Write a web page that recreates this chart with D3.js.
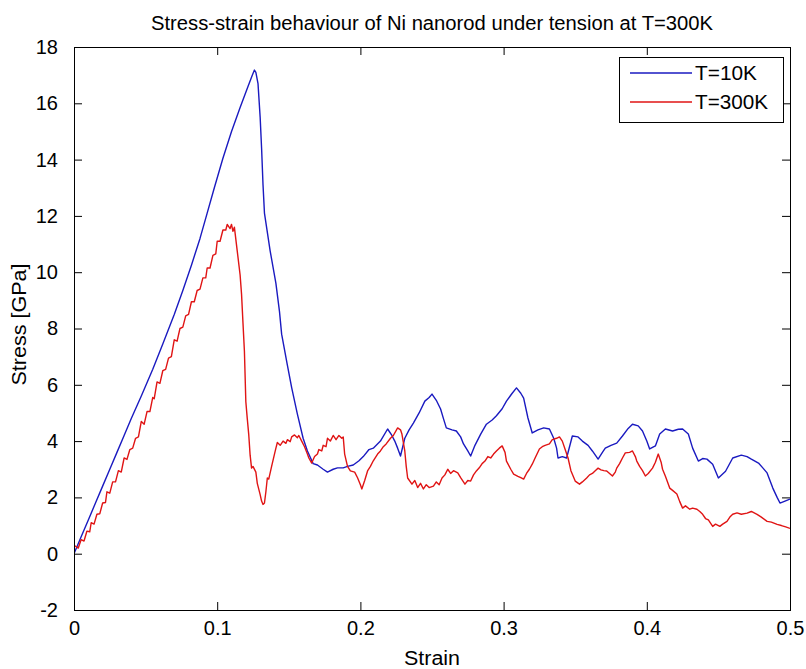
<!DOCTYPE html>
<html>
<head>
<meta charset="utf-8">
<script src="https://cdn.jsdelivr.net/npm/d3@7"></script>
<style>
  html, body { margin: 0; padding: 0; background: #fff; }
  svg { display: block; }
  text { font-family: "Liberation Sans", Arial, sans-serif; fill: #000; }
</style>
</head>
<body>
<svg id="chart" width="806" height="669"></svg>
<script>
// Stress-strain curves of a Ni nanorod under tension (strain, stress in GPa)
const strain10K = [0,0.005,0.010,0.015,0.020,0.025,0.030,0.035,0.040,0.047,0.055,0.062,0.070,0.076,0.082,0.088,0.093,0.098,0.104,0.110,0.116,0.1215,0.1245,0.126,0.127,0.1285,0.130,0.131,0.132,0.133,0.137,0.141,0.1435,0.145,0.149,0.152,0.156,0.160,0.163,0.167,0.170,0.174,0.177,0.181,0.184,0.188,0.191,0.195,0.199,0.202,0.206,0.209,0.214,0.219,0.222,0.224,0.226,0.228,0.231,0.234,0.237,0.241,0.245,0.248,0.250,0.253,0.256,0.258,0.260,0.264,0.267,0.270,0.272,0.275,0.277,0.280,0.284,0.288,0.292,0.295,0.299,0.302,0.306,0.309,0.312,0.314,0.317,0.320,0.324,0.328,0.332,0.335,0.337,0.338,0.341,0.344,0.348,0.352,0.355,0.359,0.362,0.366,0.369,0.371,0.375,0.379,0.383,0.387,0.390,0.394,0.397,0.400,0.402,0.406,0.409,0.413,0.418,0.422,0.425,0.429,0.432,0.436,0.439,0.442,0.446,0.450,0.455,0.460,0.466,0.470,0.473,0.478,0.481,0.484,0.488,0.491,0.493,0.4965,0.500];
const stress10K = [0,0.60,1.20,1.80,2.40,3.00,3.60,4.20,4.80,5.60,6.55,7.45,8.50,9.35,10.25,11.20,12.10,13.00,14.05,15.00,15.85,16.60,17.00,17.18,17.10,16.7,15.5,14.4,13.1,12.1,10.75,9.6,8.6,7.8,6.7,5.9,4.96,4.1,3.65,3.2,3.15,3.0,2.9,3.0,3.05,3.05,3.1,3.15,3.3,3.45,3.7,3.75,4.0,4.43,4.2,4.0,3.75,3.47,4.1,4.4,4.64,5.0,5.42,5.55,5.67,5.45,5.14,4.8,4.47,4.40,4.36,4.15,3.9,3.65,3.47,3.85,4.25,4.6,4.75,4.9,5.15,5.42,5.7,5.89,5.7,5.53,4.82,4.29,4.4,4.47,4.43,4.1,3.75,3.4,3.45,3.4,4.18,4.15,4.0,3.85,3.65,3.36,3.6,3.75,3.85,3.93,4.18,4.45,4.6,4.54,4.36,4.0,3.72,3.83,4.25,4.43,4.36,4.42,4.43,4.25,3.75,3.29,3.38,3.36,3.18,2.69,2.93,3.4,3.5,3.45,3.36,3.22,3.05,2.87,2.33,2.0,1.8,1.87,1.94];

const strain300K = [0,0.003,0.005,0.007,0.009,0.011,0.012,0.014,0.016,0.018,0.020,0.022,0.023,0.025,0.027,0.029,0.031,0.033,0.035,0.037,0.039,0.041,0.043,0.045,0.047,0.049,0.051,0.053,0.055,0.056,0.058,0.060,0.062,0.064,0.066,0.068,0.070,0.072,0.074,0.076,0.078,0.080,0.082,0.084,0.086,0.088,0.090,0.092,0.093,0.095,0.097,0.099,0.100,0.102,0.104,0.106,0.107,0.109,0.110,0.111,0.112,0.114,0.116,0.117,0.118,0.119,0.120,0.121,0.122,0.123,0.124,0.125,0.127,0.128,0.130,0.131,0.132,0.133,0.134,0.135,0.136,0.138,0.140,0.141,0.142,0.144,0.146,0.148,0.149,0.151,0.152,0.154,0.156,0.157,0.159,0.161,0.163,0.164,0.166,0.168,0.170,0.171,0.173,0.174,0.176,0.177,0.179,0.181,0.183,0.185,0.187,0.188,0.189,0.191,0.193,0.196,0.198,0.200,0.201,0.203,0.205,0.207,0.209,0.212,0.214,0.216,0.218,0.221,0.223,0.226,0.228,0.229,0.231,0.232,0.233,0.236,0.238,0.240,0.242,0.244,0.246,0.248,0.251,0.253,0.255,0.257,0.259,0.261,0.263,0.265,0.268,0.270,0.273,0.275,0.277,0.279,0.281,0.283,0.285,0.287,0.289,0.291,0.293,0.295,0.297,0.299,0.301,0.302,0.305,0.307,0.310,0.312,0.314,0.316,0.318,0.320,0.322,0.325,0.327,0.329,0.332,0.334,0.337,0.339,0.341,0.343,0.345,0.347,0.350,0.353,0.355,0.358,0.360,0.362,0.364,0.366,0.368,0.370,0.372,0.374,0.376,0.378,0.379,0.381,0.383,0.385,0.388,0.390,0.392,0.393,0.395,0.397,0.399,0.401,0.404,0.406,0.408,0.410,0.411,0.413,0.416,0.418,0.421,0.423,0.425,0.427,0.430,0.432,0.435,0.437,0.439,0.441,0.443,0.446,0.448,0.451,0.453,0.456,0.458,0.460,0.463,0.466,0.470,0.473,0.477,0.480,0.484,0.487,0.491,0.494,0.497,0.500];
const stress300K = [0.30,0.20,0.50,0.45,0.80,0.78,1.10,1.05,1.40,1.42,1.80,1.82,2.20,2.15,2.55,2.55,2.95,2.90,3.40,3.35,3.70,3.75,4.10,4.15,4.70,4.60,5.05,5.05,5.55,5.50,6.10,6.05,6.50,6.55,6.95,7.00,7.60,7.55,8.00,8.05,8.45,8.50,8.95,8.95,9.35,9.40,9.80,9.80,10.15,10.15,10.60,10.65,11.10,11.10,11.50,11.50,11.70,11.55,11.70,11.45,11.60,10.75,9.90,9.22,8.20,7.2,5.4,4.80,4.25,3.50,3.04,3.10,2.90,2.50,2.10,1.87,1.75,1.80,2.20,2.69,2.65,3.10,3.54,3.75,3.95,3.85,4.00,3.92,4.05,3.98,4.15,4.22,4.12,4.20,4.00,3.80,3.54,3.40,3.22,3.45,3.54,3.70,3.65,3.85,3.80,4.10,4.00,4.20,4.05,4.20,4.10,4.15,3.54,3.10,2.94,2.90,2.70,2.45,2.30,2.60,2.94,3.10,3.30,3.54,3.65,3.80,3.90,4.10,4.20,4.47,4.40,4.25,3.65,3.10,2.69,2.47,2.60,2.35,2.50,2.30,2.45,2.35,2.40,2.55,2.45,2.69,2.80,3.00,2.85,2.95,2.87,2.70,2.47,2.60,2.58,2.80,2.94,3.05,3.20,3.29,3.45,3.40,3.54,3.65,3.75,3.83,3.60,3.29,3.00,2.83,2.75,2.70,2.65,2.85,3.00,3.18,3.40,3.72,3.80,3.85,3.90,4.05,4.10,4.15,4.00,3.70,3.40,2.95,2.58,2.47,2.55,2.69,2.80,2.85,2.95,3.04,2.98,2.95,2.94,2.85,2.76,2.90,3.04,3.20,3.40,3.58,3.60,3.65,3.45,3.29,3.10,2.95,2.76,2.85,3.04,3.25,3.54,3.25,3.00,2.75,2.33,2.25,2.12,1.85,1.62,1.70,1.58,1.62,1.58,1.50,1.40,1.25,1.20,0.97,1.05,0.97,1.05,1.15,1.30,1.40,1.45,1.40,1.44,1.50,1.40,1.30,1.15,1.12,1.04,1.00,0.95,0.90];

const xTicks = [0, 0.1, 0.2, 0.3, 0.4, 0.5];
const yTicks = [-2, 0, 2, 4, 6, 8, 10, 12, 14, 16, 18];
const seriesNames = ["T=10K", "T=300K"];
const seriesColors = ["#1a1ac0", "#e01414"];

const svg = d3.select("#chart");
const plot = { left: 74, right: 790, top: 47, bottom: 610 };

const x = d3.scaleLinear().domain([0, 0.5]).range([plot.left, plot.right]);
const y = d3.scaleLinear().domain([-2, 18]).range([plot.bottom, plot.top]);

svg.append("rect").attr("width", 806).attr("height", 669).attr("fill", "#fff");

const tickLen = 8;
const tickFont = 20;
const fmt = d => (d === 0 ? "0" : String(d));

// bottom axis with inward ticks
const bottomAxis = d3.axisBottom(x).tickValues(xTicks).tickSizeInner(-tickLen).tickSizeOuter(0).tickPadding(11).tickFormat(fmt);
const gB = svg.append("g").attr("transform", `translate(0,${plot.bottom})`).call(bottomAxis);
// top axis, ticks only
const topAxis = d3.axisTop(x).tickValues(xTicks).tickSizeInner(-tickLen).tickSizeOuter(0).tickFormat("");
const gT = svg.append("g").attr("transform", `translate(0,${plot.top})`).call(topAxis);
// left axis with labels
const leftAxis = d3.axisLeft(y).tickValues(yTicks).tickSizeInner(-tickLen).tickSizeOuter(0).tickPadding(16).tickFormat(fmt);
const gL = svg.append("g").attr("transform", `translate(${plot.left},0)`).call(leftAxis);
// right axis, ticks only
const rightAxis = d3.axisRight(y).tickValues(yTicks).tickSizeInner(-tickLen).tickSizeOuter(0).tickFormat("");
const gR = svg.append("g").attr("transform", `translate(${plot.right},0)`).call(rightAxis);

[gB, gT, gL, gR].forEach(g => {
  g.select(".domain").remove();
  g.selectAll("line").attr("stroke", "#000").attr("stroke-width", 1);
  g.selectAll("text").attr("font-size", tickFont)
    .attr("font-family", "'Liberation Sans', Arial, sans-serif").attr("fill", "#000");
});

// curves
const line = d3.line().x(d => x(d[0])).y(d => y(d[1]));
const data10K = strain10K.map((s, i) => [s, stress10K[i]]);
const data300K = strain300K.map((s, i) => [s, stress300K[i]]);

svg.append("clipPath").attr("id", "plotclip")
  .append("rect").attr("x", plot.left).attr("y", plot.top)
  .attr("width", plot.right - plot.left).attr("height", plot.bottom - plot.top);

const lines = svg.append("g").attr("clip-path", "url(#plotclip)");
lines.append("path").datum(data10K).attr("d", line)
  .attr("fill", "none").attr("stroke", seriesColors[0]).attr("stroke-width", 1.4).attr("stroke-linejoin", "round");
lines.append("path").datum(data300K).attr("d", line)
  .attr("fill", "none").attr("stroke", seriesColors[1]).attr("stroke-width", 1.4).attr("stroke-linejoin", "round");

// plot frame
svg.append("rect")
  .attr("x", plot.left + 0.5).attr("y", plot.top + 0.5)
  .attr("width", plot.right - plot.left).attr("height", plot.bottom - plot.top)
  .attr("fill", "none").attr("stroke", "#000").attr("stroke-width", 1);

// title and axis labels
const cx = (plot.left + plot.right) / 2;
svg.append("text").attr("x", cx).attr("y", 30)
  .attr("text-anchor", "middle").attr("font-size", 20)
  .attr("textLength", 562).attr("lengthAdjust", "spacingAndGlyphs")
  .text("Stress-strain behaviour of Ni nanorod under tension at T=300K");
svg.append("text").attr("x", cx).attr("y", 665)
  .attr("text-anchor", "middle").attr("font-size", 20)
  .attr("textLength", 56).attr("lengthAdjust", "spacingAndGlyphs").text("Strain");
svg.append("text").attr("transform", `translate(26,${(plot.top + plot.bottom) / 2 - 4}) rotate(-90)`)
  .attr("text-anchor", "middle").attr("font-size", 20)
  .attr("textLength", 122).attr("lengthAdjust", "spacingAndGlyphs").text("Stress [GPa]");

// legend
const legend = svg.append("g");
legend.append("rect").attr("x", 619.5).attr("y", 57.5).attr("width", 164).attr("height", 65)
  .attr("fill", "#fff").attr("stroke", "#000").attr("stroke-width", 1);
const legendWidths = [62, 73];
seriesNames.forEach((name, i) => {
  const ly = 73 + i * 29;
  legend.append("line").attr("x1", 630).attr("x2", 692).attr("y1", ly).attr("y2", ly)
    .attr("stroke", seriesColors[i]).attr("stroke-width", 1.4);
  legend.append("text").attr("x", 695).attr("y", ly + 7).attr("font-size", tickFont)
    .attr("textLength", legendWidths[i]).attr("lengthAdjust", "spacingAndGlyphs").text(name);
});
</script>
</body>
</html>
